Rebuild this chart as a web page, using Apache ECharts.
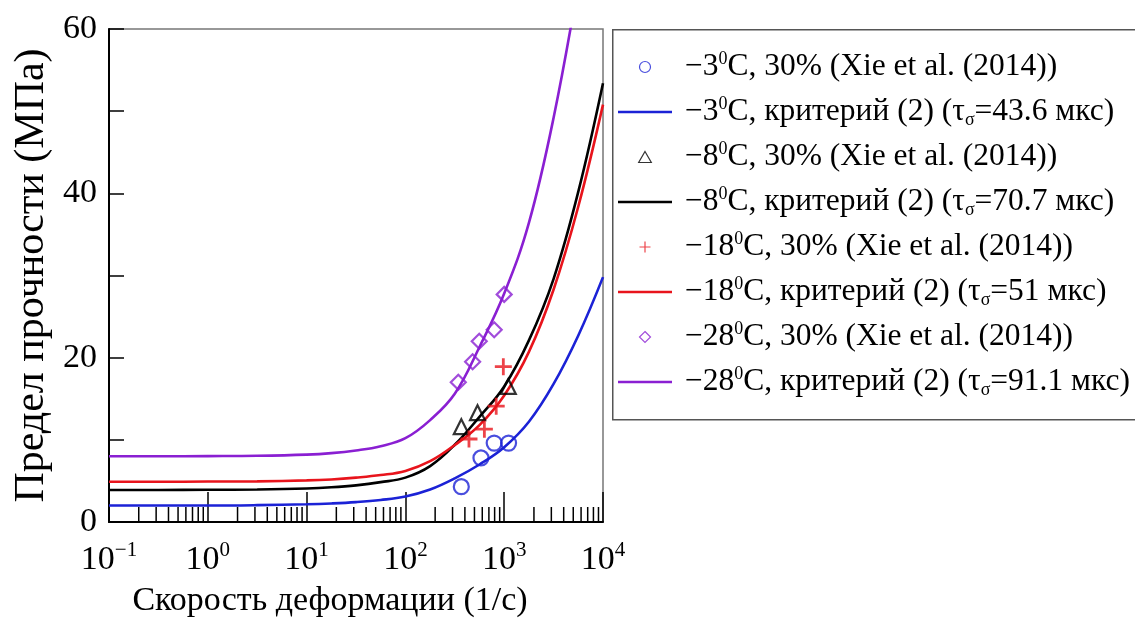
<!DOCTYPE html>
<html>
<head>
<meta charset="utf-8">
<script src="https://cdn.jsdelivr.net/npm/echarts@6/dist/echarts.min.js"></script>
<style>
  html, body { margin: 0; padding: 0; background: #fff; }
  #chart { width: 1135px; height: 630px; }
</style>
</head>
<body>
<div id="chart"></div>
<script>
// Strain rate (1/s) and strength (MPa) — experimental points, 30% saturation
const rateM3 = [368, 582, 792, 1107];
const stressM3 = [4.3, 7.8, 9.6, 9.6];
const rateM8 = [368, 537, 1100];
const stressM8 = [11.6, 13.3, 16.5];
const rateM18 = [440, 630, 830, 980];
const stressM18 = [10.1, 11.3, 14.1, 18.9];
const rateM28 = [343, 479, 559, 792, 1000];
const stressM28 = [17.0, 19.5, 22.0, 23.4, 27.7];

// Criterion (2) curves, sampled along the strain-rate axis
const critRate = [0.1, 0.316, 1, 3.16, 10, 17.8, 31.6, 56.2, 100, 178, 316, 562, 1000, 1778, 3162, 5623, 10000];
const critStressM3 = [2.0, 2.0, 2.0, 2.05, 2.16, 2.26, 2.42, 2.68, 3.1, 3.95, 5.31, 7.0, 9.1, 12.2, 16.8, 22.7, 29.8];
const critStressM8 = [3.9, 3.9, 3.92, 3.96, 4.08, 4.22, 4.46, 4.85, 5.4, 6.8, 9.4, 12.8, 16.5, 22.1, 29.6, 40.2, 53.4];
const critStressM18 = [4.9, 4.9, 4.92, 4.95, 5.06, 5.18, 5.4, 5.71, 6.22, 7.4, 9.37, 11.8, 15.4, 20.7, 28.3, 38.4, 50.8];
const critStressM28 = [8.0, 8.0, 8.02, 8.06, 8.2, 8.38, 8.71, 9.23, 10.2, 12.4, 15.6, 21.3, 27.8, 36.4, 49.2, 65.5];

// Legend captions
const legendNames = [
  '−3{sup|0}C, 30% (Xie et al. (2014))',
  '−3{sup|0}C, критерий (2) (τ{sub|σ}=43.6 мкс)',
  '−8{sup|0}C, 30% (Xie et al. (2014))',
  '−8{sup|0}C, критерий (2) (τ{sub|σ}=70.7 мкс)',
  '−18{sup|0}C, 30% (Xie et al. (2014))',
  '−18{sup|0}C, критерий (2) (τ{sub|σ}=51 мкс)',
  '−28{sup|0}C, 30% (Xie et al. (2014))',
  '−28{sup|0}C, критерий (2) (τ{sub|σ}=91.1 мкс)'
];

const xTitle = 'Скорость деформации (1/с)';
const yTitle = 'Предел прочности (МПа)';

const FONT = 'Liberation Serif';
const BLUE = '#1b22d6';
const BLACK = '#000000';
const RED = '#e8141c';
const PURPLE = '#8a1fd2';

// minor ticks of the log axis: 2..9 within each decade
const minorTicks = [];
for (let e = -1; e < 4; e++) {
  for (let m = 2; m <= 9; m++) minorTicks.push([m * Math.pow(10, e), 0]);
}

const zip = (xs, ys) => ys.map((y, i) => [xs[i], y]);

// marker shapes
const PLUS = 'path://M0,6H12M6,0V12';
const TRI = 'path://M5,0L10,8.7L0,8.7Z';
const DIAM = 'path://M5,0L10,5L5,10L0,5Z';
const LINE_KEY = 'path://M0,0H54V2.6H0Z';

function lineSeries(name, xs, ys, color) {
  return {
    name, type: 'line', data: zip(xs, ys), smooth: 0.4, symbol: 'none',
    lineStyle: { color, width: 2.6 }, itemStyle: { color }, z: 3, clip: true
  };
}
function pointSeries(name, xs, ys, color, symbol, size, width) {
  return {
    name, type: 'scatter', data: zip(xs, ys), symbol, symbolSize: size,
    itemStyle: { color: 'transparent', borderColor: color, borderWidth: width || 2.2 }, z: 4
  };
}
const markKey = (name, icon, color) => ({
  name, icon, itemStyle: { color: 'transparent', borderColor: color, borderWidth: 1.2 }
});
const lineKey = (name, color) => ({
  name, icon: LINE_KEY, itemStyle: { color, borderWidth: 0 }
});

const chart = echarts.init(document.getElementById('chart'), null, { renderer: 'canvas' });

chart.setOption({
  animation: false,
  backgroundColor: '#fff',
  grid: { left: 109, top: 29, right: 532, bottom: 108, show: true, borderColor: '#777', borderWidth: 1.5, backgroundColor: 'transparent' },
  xAxis: {
    type: 'log', logBase: 10, min: 0.1, max: 10000,
    name: xTitle, nameLocation: 'middle', nameGap: 62,
    nameTextStyle: { fontFamily: FONT, fontSize: 34, color: '#000', padding: [0, 52, 0, 0] },
    axisLine: { lineStyle: { color: '#000', width: 2 } },
    axisTick: { inside: true, length: 30, lineStyle: { color: '#000', width: 1.5 } },
    splitLine: { show: false },
    axisLabel: {
      margin: 18,
      formatter: v => {
        const e = Math.round(Math.log10(v));
        return '{b|10}{e|' + (e < 0 ? '−' + (-e) : e) + '}';
      },
      rich: {
        b: { fontFamily: FONT, fontSize: 34, color: '#000', lineHeight: 40 },
        e: { fontFamily: FONT, fontSize: 21, color: '#000', verticalAlign: 'top' }
      }
    }
  },
  yAxis: {
    type: 'value', min: 0, max: 60, interval: 10,
    name: yTitle, nameLocation: 'middle', nameGap: 56,
    nameTextStyle: { fontFamily: FONT, fontSize: 42, color: '#000' },
    axisLine: { show: true, lineStyle: { color: '#000', width: 2 } },
    axisTick: { inside: true, length: 15, lineStyle: { color: '#000', width: 1.5 } },
    splitLine: { show: false },
    axisLabel: {
      margin: 12, fontFamily: FONT, fontSize: 34, color: '#000',
      formatter: v => (v % 20 === 0 ? String(v) : '')
    }
  },
  legend: {
    orient: 'vertical', left: 618, top: 50, padding: 0,
    itemWidth: 54, itemHeight: 11, itemGap: 11, symbolKeepAspect: true,
    data: [
      markKey(legendNames[0], 'circle', BLUE),
      lineKey(legendNames[1], BLUE),
      markKey(legendNames[2], TRI, BLACK),
      lineKey(legendNames[3], BLACK),
      markKey(legendNames[4], PLUS, RED),
      lineKey(legendNames[5], RED),
      markKey(legendNames[6], DIAM, PURPLE),
      lineKey(legendNames[7], PURPLE)
    ],
    textStyle: {
      fontFamily: FONT, fontSize: 31.5, color: '#000', lineHeight: 34,
      rich: {
        sup: { fontFamily: FONT, fontSize: 18, color: '#000', verticalAlign: 'top' },
        sub: { fontFamily: FONT, fontSize: 18, color: '#000', verticalAlign: 'bottom' }
      }
    },
    formatter: n => ' ' + n,
    selectedMode: false
  },
  graphic: [{
    type: 'rect', left: 612, top: 29, silent: true,
    shape: { width: 540, height: 390 },
    style: { fill: 'transparent', stroke: '#555', lineWidth: 1.5 }
  }],
  series: [
    pointSeries(legendNames[0], rateM3, stressM3, BLUE, 'circle', 15),
    lineSeries(legendNames[1], critRate, critStressM3, BLUE),
    pointSeries(legendNames[2], rateM8, stressM8, BLACK, TRI, 15),
    lineSeries(legendNames[3], critRate, critStressM8, BLACK),
    pointSeries(legendNames[4], rateM18, stressM18, RED, PLUS, 17, 2.8),
    lineSeries(legendNames[5], critRate, critStressM18, RED),
    pointSeries(legendNames[6], rateM28, stressM28, PURPLE, DIAM, 15),
    lineSeries(legendNames[7], critRate, critStressM28, PURPLE),
    {
      name: 'minor-ticks', type: 'custom', data: minorTicks, silent: true, z: 2,
      encode: { x: 0, y: 1 },
      renderItem: (params, api) => {
        const p = api.coord([api.value(0), 0]);
        return {
          type: 'line',
          shape: { x1: p[0], y1: p[1], x2: p[0], y2: p[1] - 15 },
          style: { stroke: '#000', lineWidth: 1.5 }
        };
      }
    }
  ]
});
</script>
</body>
</html>
